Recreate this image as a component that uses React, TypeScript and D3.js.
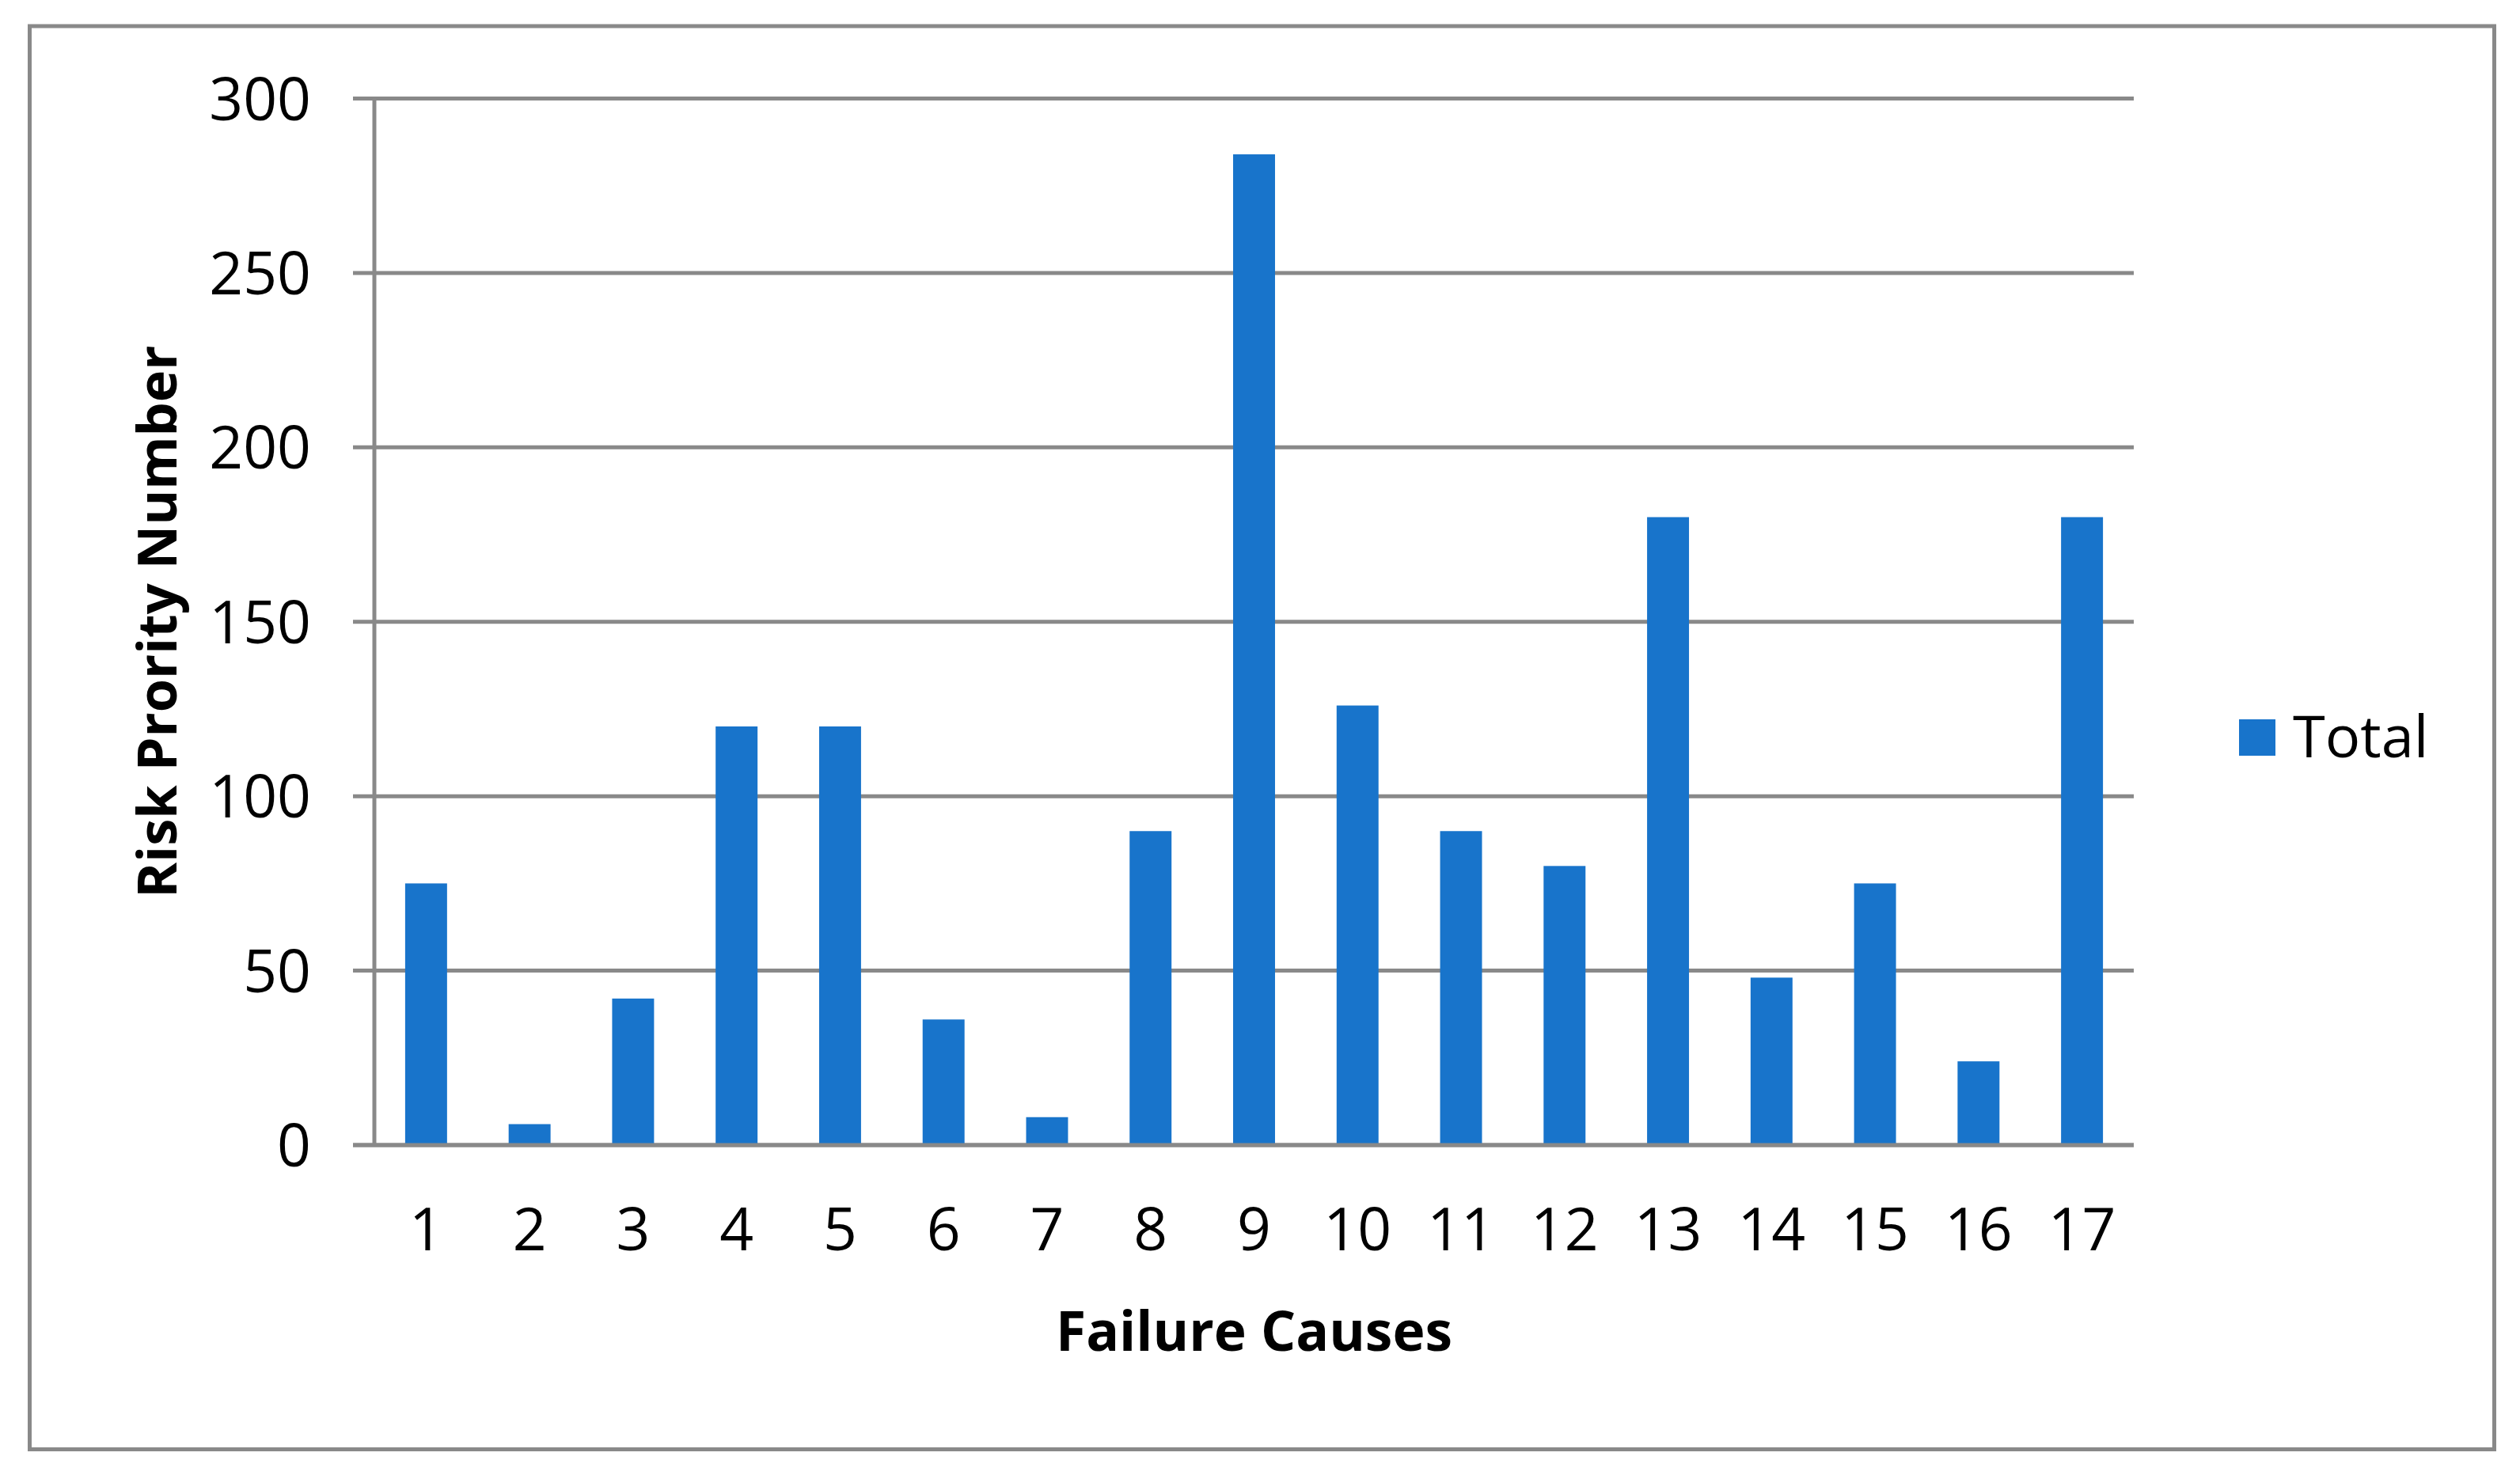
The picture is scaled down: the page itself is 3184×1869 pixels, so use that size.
import * as d3 from "d3";

const causes = ["1", "2", "3", "4", "5", "6", "7", "8", "9", "10", "11", "12", "13", "14", "15", "16", "17"];
const rpn = [75, 6, 42, 120, 120, 36, 8, 90, 284, 126, 90, 80, 180, 48, 75, 24, 180];
const yTicks = [0, 50, 100, 150, 200, 250, 300];

const width = 3184;
const height = 1869;
const plot = { left: 473, right: 2696, top: 124.5, bottom: 1447 };
const grey = "#898989";
const blue = "#1874CB";
const font = "'Open Sans', sans-serif";

export default function App() {
  const x = d3.scaleBand<string>()
    .domain(causes)
    .range([plot.left, plot.right])
    .paddingInner(0.595)
    .paddingOuter(0.2975);

  const y = d3.scaleLinear()
    .domain([0, 300])
    .range([plot.bottom, plot.top]);

  return (
    <svg
      width={width}
      height={height}
      style={{ position: "absolute", left: 0, top: 0, background: "#fff" }}
      fontFamily={font}
    >
      <rect x={37.5} y={33} width={3114} height={1798.5} fill="#fff" stroke={grey} strokeWidth={5} />

      {/* grid lines with the little ticks left of the axis */}
      {yTicks.map((t) => (
        <g key={t}>
          <line x1={plot.left - 27} x2={plot.right} y1={y(t)} y2={y(t)} stroke={grey} strokeWidth={5} />
          <text x={393} y={y(t)} dy="0.36em" textAnchor="end" fontSize={75} fill="#000">
            {t}
          </text>
        </g>
      ))}
      <line x1={plot.left} x2={plot.left} y1={plot.top} y2={plot.bottom} stroke={grey} strokeWidth={5} />

      {causes.map((c, i) => (
        <rect
          key={c}
          x={x(c)}
          y={y(rpn[i])}
          width={x.bandwidth()}
          height={y(0) - y(rpn[i])}
          fill={blue}
        />
      ))}
      <line x1={plot.left - 27} x2={plot.right} y1={plot.bottom} y2={plot.bottom} stroke={grey} strokeWidth={5} />

      {causes.map((c) => (
        <text
          key={c}
          x={(x(c) ?? 0) + x.bandwidth() / 2}
          y={1580}
          textAnchor="middle"
          fontSize={75}
          fill="#000"
        >
          {c}
        </text>
      ))}

      <text x={(plot.left + plot.right) / 2} y={1707} textAnchor="middle" fontSize={69.5} fontWeight={700}>
        Failure Causes
      </text>
      <text
        transform={`translate(223, ${(plot.top + plot.bottom) / 2}) rotate(-90)`}
        textAnchor="middle"
        fontSize={68.5}
        fontWeight={700}
      >
        Risk Prority Number
      </text>

      <rect x={2829} y={909} width={46} height={46} fill={blue} />
      <text x={2897} y={957} fontSize={74} fill="#000">Total</text>
    </svg>
  );
}
